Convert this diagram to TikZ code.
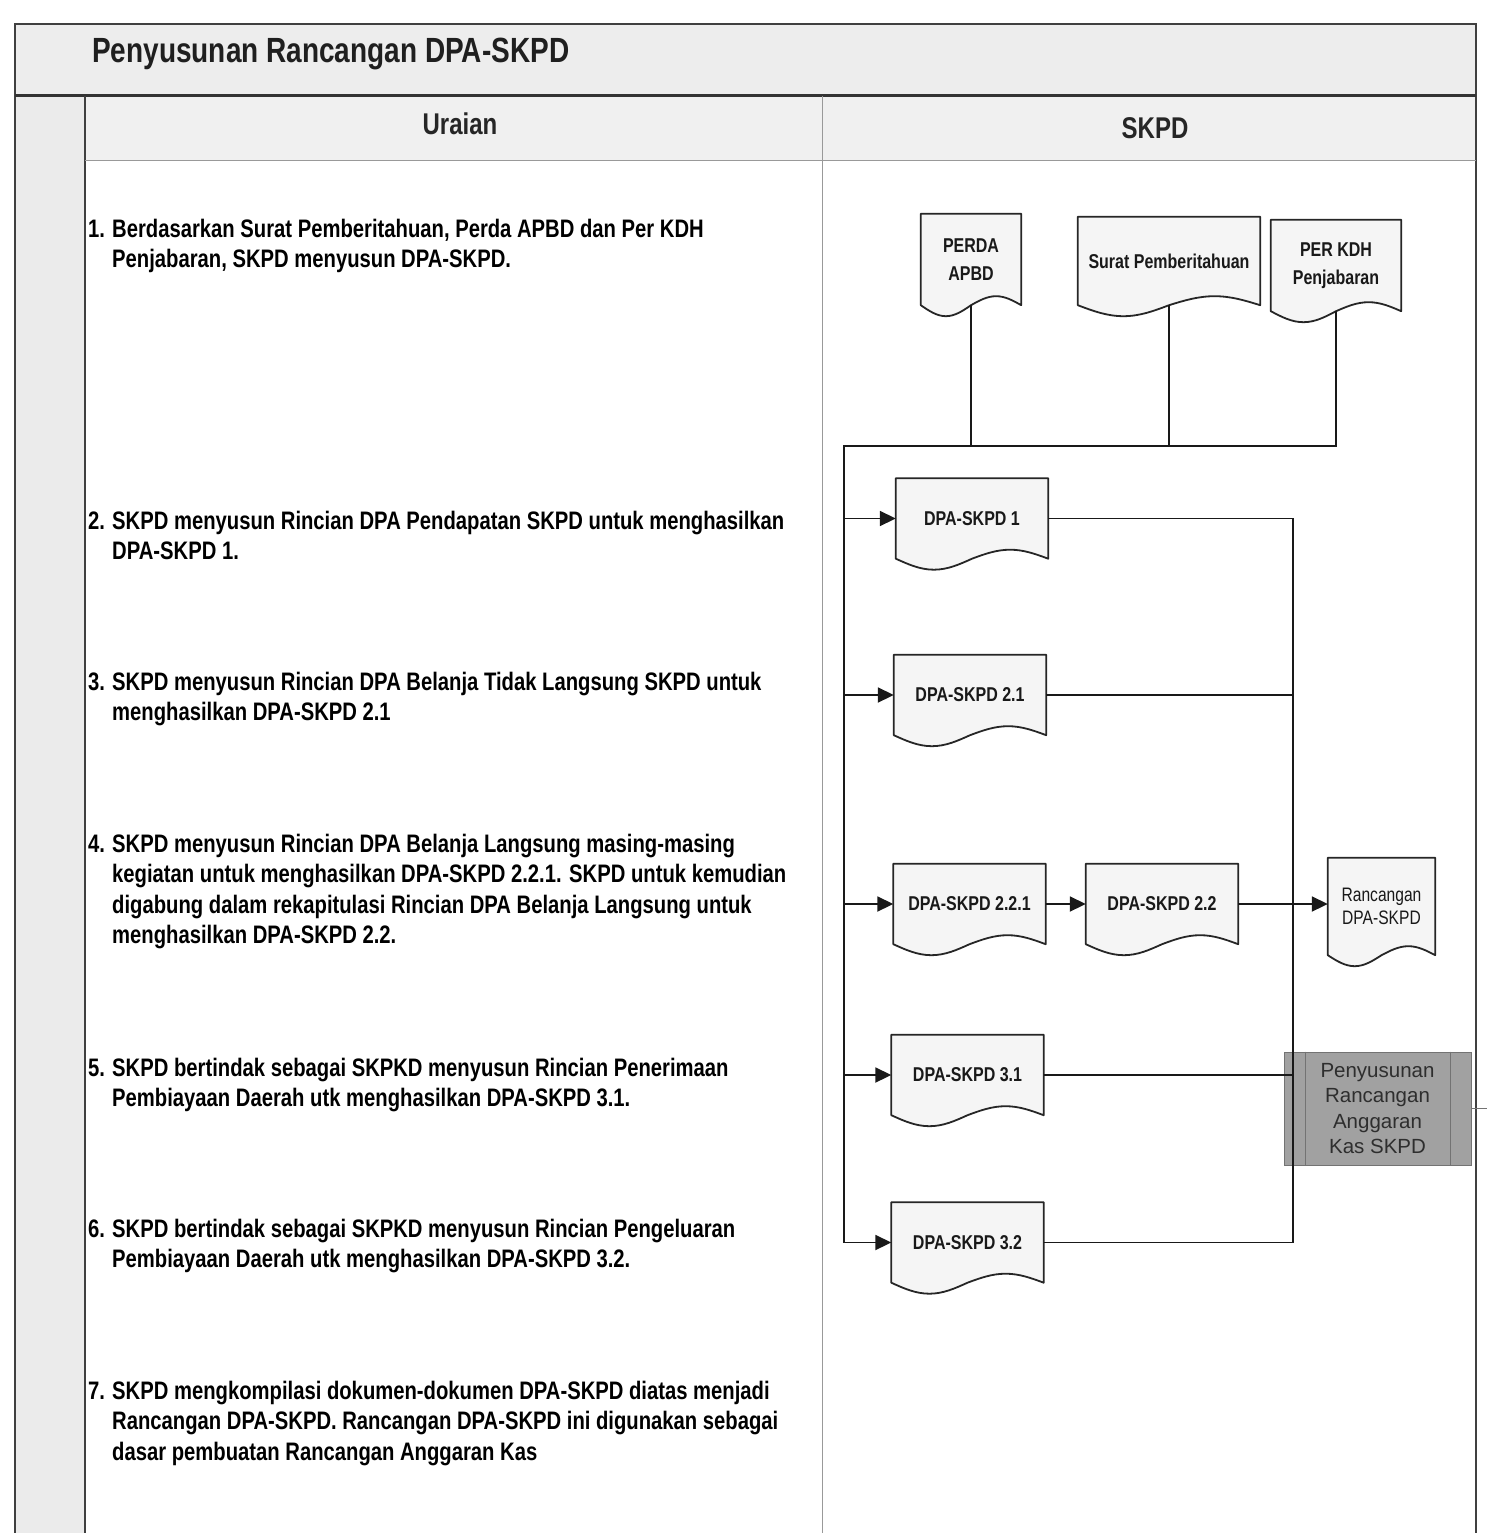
\documentclass[tikz,border=0pt]{standalone}
\usepackage{fontspec}
\setmainfont{Liberation Sans}
\newfontfamily\condfont[FakeStretch=0.8]{Liberation Sans}
\usetikzlibrary{arrows.meta,calc}

\pgfdeclarelayer{frame}
\pgfdeclarelayer{shapes}
\pgfsetlayers{frame,shapes,main}

% document symbol: straight sides, wavy bottom edge under the node's box
\newcommand\docshape[1]{%
  \path[docbody] let \p1=(#1.north west), \p2=(#1.south east), \n1={(\x2-\x1)/4} in
    (\x1,\y1) -- (\x1,\y2) sin (\x1+\n1,\y2-11pt) cos (\x1+2*\n1,\y2)
    sin (\x1+3*\n1,\y2+9pt) cos (\x2,\y2) -- (\x2,\y1) -- cycle;}

\begin{document}
\begin{tikzpicture}[x=1pt,y=-1pt,
  conn/.style={draw=black!90, line width=1.8pt, line join=miter},
  arr/.style={conn, -{Triangle[length=16pt,width=15pt]}},
  docbody/.style={draw=black!85, line width=1.8pt, fill=black!4, line join=round},
  doc/.style={inner sep=0, align=center, text=black!90,
    font=\condfont\bfseries\fontsize{20}{28}\selectfont},
  docw/.style={doc, minimum width=152, minimum height=80},
  body/.style={anchor=base west, inner sep=0,
    font=\condfont\bfseries\fontsize{25.3}{30.5}\selectfont},
  head/.style={inner sep=0, font=\condfont\bfseries\fontsize{30}{36}\selectfont, text=black!85},
  kasbox/.style={draw=black!55, line width=0.8pt, fill=black!37,
    minimum width=187, minimum height=113, inner sep=0, align=center,
    text=black!82, font=\fontsize{20.5}{25.5}\selectfont},
  rule/.style={draw=black!75, line width=1.6pt},
  thinrule/.style={draw=black!40, line width=0.9pt}]

\useasboundingbox (0,0) rectangle (1487,1533);

% ---------- table frame ----------
\begin{pgfonlayer}{frame}
  \fill[white] (0,0) rectangle (1487,1533);
  \fill[black!7] (15,24) rectangle (1476,96);
  \fill[black!6] (85,96) rectangle (1476,160);
  \fill[black!8] (15,96) rectangle (85,1533);
  \draw[rule] (15,1533) -- (15,24) -- (1476,24) -- (1476,1533);
  \draw[draw=black!80, line width=3pt] (15,96) -- (1476,96);
  \draw[rule] (85,96) -- (85,1533);
  \draw[thinrule] (85,160) -- (1476,160);
  \draw[thinrule] (822,96) -- (822,1533);
\end{pgfonlayer}

\node[anchor=base west, inner sep=0, text=black!88,
  font=\condfont\bfseries\fontsize{35}{40}\selectfont] (title) at (92,63)
  {Penyusunan Rancangan DPA-SKPD};
\node[head] (hurai) at (460,124) {Uraian};
\node[head] (hskpd) at (1155,128) {SKPD};

% ---------- description column ----------
\node[body] (u1) at (88,237) {\begin{tabular}[t]{@{}l@{}l@{}}
  \makebox[24pt][l]{1.}&Berdasarkan Surat Pemberitahuan, Perda APBD dan Per KDH\\
  &Penjabaran, SKPD menyusun DPA-SKPD.\end{tabular}};
\node[body] (u2) at (88,529) {\begin{tabular}[t]{@{}l@{}l@{}}
  \makebox[24pt][l]{2.}&SKPD menyusun Rincian DPA Pendapatan SKPD untuk menghasilkan\\
  &DPA-SKPD 1.\end{tabular}};
\node[body] (u3) at (88,690) {\begin{tabular}[t]{@{}l@{}l@{}}
  \makebox[24pt][l]{3.}&SKPD menyusun Rincian DPA Belanja Tidak Langsung SKPD untuk\\
  &menghasilkan DPA-SKPD 2.1\end{tabular}};
\node[body] (u4) at (88,852) {\begin{tabular}[t]{@{}l@{}l@{}}
  \makebox[24pt][l]{4.}&SKPD menyusun Rincian DPA Belanja Langsung masing-masing\\
  &kegiatan untuk menghasilkan DPA-SKPD 2.2.1. SKPD untuk kemudian\\
  &digabung dalam rekapitulasi Rincian DPA Belanja Langsung untuk\\
  &menghasilkan DPA-SKPD 2.2.\end{tabular}};
\node[body] (u5) at (88,1076) {\begin{tabular}[t]{@{}l@{}l@{}}
  \makebox[24pt][l]{5.}&SKPD bertindak sebagai SKPKD menyusun Rincian Penerimaan\\
  &Pembiayaan Daerah utk menghasilkan DPA-SKPD 3.1.\end{tabular}};
\node[body] (u6) at (88,1237) {\begin{tabular}[t]{@{}l@{}l@{}}
  \makebox[24pt][l]{6.}&SKPD bertindak sebagai SKPKD menyusun Rincian Pengeluaran\\
  &Pembiayaan Daerah utk menghasilkan DPA-SKPD 3.2.\end{tabular}};
\node[body] (u7) at (88,1399) {\begin{tabular}[t]{@{}l@{}l@{}}
  \makebox[24pt][l]{7.}&SKPD mengkompilasi dokumen-dokumen DPA-SKPD diatas menjadi\\
  &Rancangan DPA-SKPD. Rancangan DPA-SKPD ini digunakan sebagai\\
  &dasar pembuatan Rancangan Anggaran Kas\end{tabular}};

% ---------- SKPD column: documents ----------
\node[doc, minimum width=100, minimum height=91] (perda) at (971,259.5) {PERDA\\APBD};
\node[doc, minimum width=182, minimum height=88] (surat) at (1169,261) {Surat Pemberitahuan};
\node[doc, minimum width=130, minimum height=91] (perkdh) at (1336,265.5) {PER KDH\\Penjabaran};

\node[docw] (d1)   at (972,518.5) {DPA-SKPD 1};
\node[docw] (d21)  at (970,695)   {DPA-SKPD 2.1};
\node[docw] (d221) at (969.5,904) {DPA-SKPD 2.2.1};
\node[docw] (d22)  at (1162,904)  {DPA-SKPD 2.2};
\node[doc, font=\condfont\fontsize{19.5}{23}\selectfont, minimum width=107, minimum height=97]
  (rdpa) at (1381.5,906.5) {Rancangan\\DPA-SKPD};
\node[docw] (d31)  at (967.5,1075)   {DPA-SKPD 3.1};
\node[docw] (d32)  at (967.5,1242.5) {DPA-SKPD 3.2};

\begin{pgfonlayer}{shapes}
  \foreach \d in {perda,surat,perkdh,d1,d21,d221,d22,rdpa,d31,d32} {\docshape{\d}}
\end{pgfonlayer}

% process box with side bars
\node[kasbox] (kas) at (1377.5,1108.5) {Penyusunan\\Rancangan\\Anggaran\\Kas SKPD};
\draw[draw=black!55, line width=0.8pt]
  ($(kas.north west)+(22,0)$) -- ($(kas.south west)+(22,0)$)
  ($(kas.north east)+(-21,0)$) -- ($(kas.south east)+(-21,0)$);

% ---------- connectors ----------
\coordinate (trunk) at (844,446);
\coordinate (coll) at (1293,0);
\coordinate (pageedge) at (1487,1110);

\draw[conn] (perda.south) -- (perda.south |- trunk);
\draw[conn] (surat.south) -- (surat.south |- trunk);
\draw[arr] (perkdh.south) |- (trunk) |- (d32.west);
\foreach \n in {d1,d21,d221,d31} {\draw[arr] (trunk |- \n.west) -- (\n.west);}
\draw[arr] (d221.east) -- (d22.west);
\draw[arr] (d22.east) -- (d22.east -| rdpa.west);

\draw[conn] (d1.east) -| (d32.east -| coll) -- (d32.east);
\draw[conn] (d21.east) -- (d21.east -| coll);
\draw[conn] (d31.east) -- (d31.east -| coll);
\draw[draw=black!55, line width=0.8pt] (kas.east) -- (kas.east -| pageedge);

\end{tikzpicture}
\end{document}
